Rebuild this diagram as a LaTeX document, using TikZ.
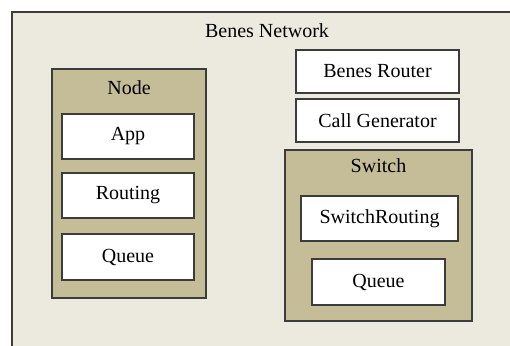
\documentclass[tikz,border=0pt]{standalone}
\usepackage{fontspec}
\setmainfont{Liberation Serif}
\definecolor{bgc}{RGB}{236,233,223}
\definecolor{tanc}{RGB}{196,189,151}
\definecolor{edgec}{RGB}{60,60,60}
\begin{document}
\begin{tikzpicture}[x=1pt,y=-1pt,
  box/.style={draw=edgec,line width=1.2pt,fill=white,inner sep=0pt,font=\fontsize{20}{24}\selectfont},
  group/.style={draw=edgec,line width=1.2pt,fill=tanc,inner sep=0pt},
  title/.style={inner sep=0pt,font=\fontsize{20}{24}\selectfont}]
\useasboundingbox (0,0) rectangle (510,345);
\clip (0,0) rectangle (510,345);
\fill[white] (0,0) rectangle (510,345);
\draw[draw=edgec,line width=1.2pt,fill=bgc] (12,12) rectangle (530,365);
\node[title] (net) at (267,31) {Benes Network};
% Node group
\draw[group] (52,69) rectangle (206,298);
\node[title] (nodet) at (129,88) {Node};
\node[box,minimum width=132pt,minimum height=45pt] (app) at (128,136.5) {App};
\node[box,minimum width=132pt,minimum height=45pt] (routing) at (128,195.5) {Routing};
\node[box,minimum width=132pt,minimum height=46pt] (queue1) at (128,257) {Queue};
% Right side
\node[box,minimum width=163pt,minimum height=43pt] (router) at (377.5,71.5) {Benes Router};
\node[box,minimum width=163pt,minimum height=43pt] (callgen) at (377.5,120.5) {Call Generator};
\draw[group] (285,150) rectangle (472,321);
\node[title] (switcht) at (378.5,166) {Switch};
\node[box,minimum width=157pt,minimum height=45pt] (swrouting) at (379.5,218.5) {SwitchRouting};
\node[box,minimum width=133pt,minimum height=46pt] (queue2) at (378.5,282) {Queue};
\end{tikzpicture}
\end{document}
